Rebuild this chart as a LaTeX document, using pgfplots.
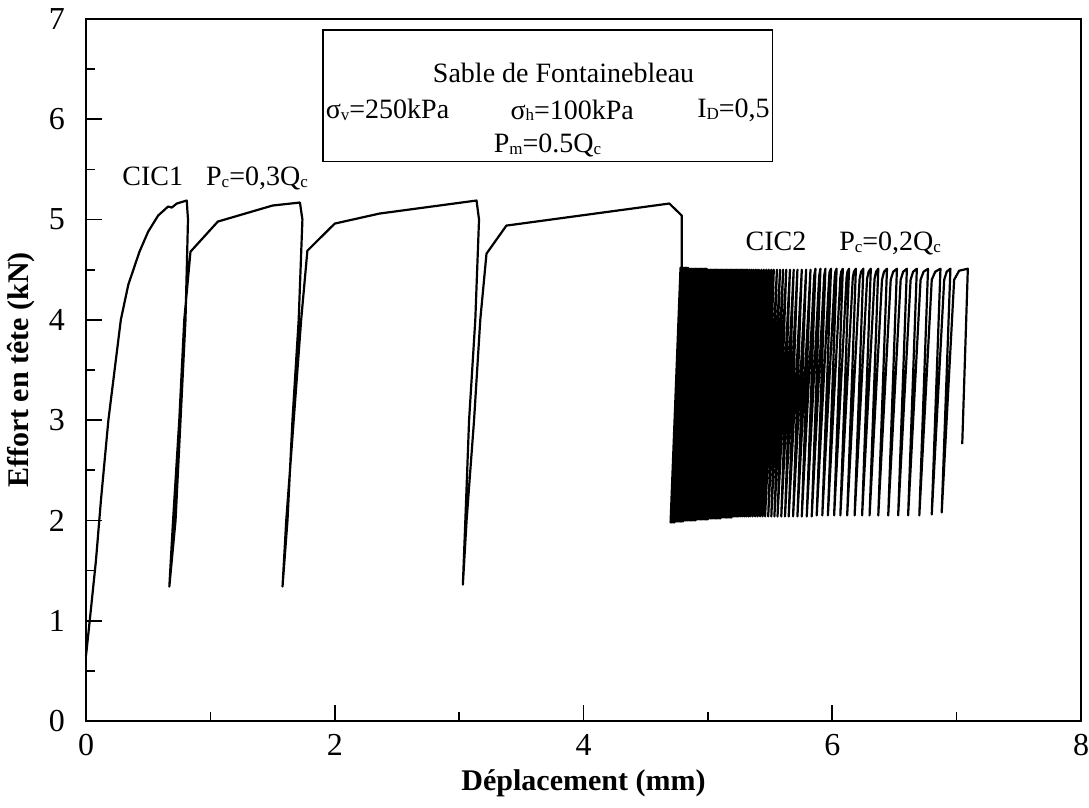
\documentclass[border=0pt]{standalone}
\usepackage{fontspec}
\setmainfont{Liberation Serif}
\usepackage{pgfplots}
\pgfplotsset{compat=1.18}
\newcommand{\sub}[1]{\raisebox{-0.15ex}{\fontsize{8.5}{9}\selectfont #1}}
\begin{document}
\begin{tikzpicture}
\begin{axis}[
  scale only axis, width=497.5pt, height=351pt,
  xmin=0, xmax=8, ymin=0, ymax=7,
  xtick={0,2,4,6,8}, ytick={0,1,2,3,4,5,6,7},
  minor xtick={1,3,5,7}, minor ytick={0.5,1.5,2.5,3.5,4.5,5.5,6.5},
  tick pos=left, tick align=inside,
  major tick length=8pt, minor tick length=4.5pt,
  axis line style={line width=1pt},
  every tick/.style={black, line width=0.8pt},
  tick label style={font=\fontsize{16}{18}\selectfont},
  /pgf/number format/assume math mode=true,
  xticklabel style={yshift=-3pt},
  yticklabel style={xshift=-7pt},
  xlabel={\fontsize{15}{17}\selectfont\bfseries Déplacement (mm)},
  ylabel={\fontsize{15}{17}\selectfont\bfseries Effort en tête (kN)},
  clip=false,
]
\addplot[black, line width=1.1pt, line join=round] coordinates {
(0.00,0.65) (0.03,1.00) (0.08,1.60) (0.12,2.20) (0.18,3.00) (0.24,3.60) (0.28,4.00)
(0.34,4.35) (0.43,4.68) (0.50,4.88) (0.58,5.04) (0.66,5.13) (0.69,5.12) (0.73,5.16) (0.81,5.19)
(0.82,5.00) (0.80,4.00) (0.76,3.00) (0.72,2.00) (0.67,1.34)
(0.70,2.00) (0.75,3.00) (0.79,4.00) (0.84,4.68) (1.06,4.98) (1.50,5.14) (1.72,5.17)
(1.74,5.00) (1.71,4.00) (1.66,3.00) (1.62,2.00) (1.58,1.34)
(1.61,2.00) (1.67,3.00) (1.73,4.00) (1.78,4.69) (2.00,4.96) (2.36,5.06) (3.14,5.19)
(3.16,5.00) (3.13,4.00) (3.08,3.00) (3.05,2.00) (3.03,1.36)
(3.06,2.00) (3.12,3.00) (3.17,4.00) (3.22,4.66) (3.38,4.94) (4.69,5.16) (4.79,5.04) (4.79,4.53)
(4.70,1.98) (4.78,4.52) (4.71,1.98) (4.79,4.52) (4.72,1.98) (4.80,4.52) (4.73,1.98) (4.81,4.52)
(4.74,1.99) (4.82,4.52) (4.75,1.99) (4.83,4.52) (4.76,1.99) (4.84,4.52) (4.77,1.99) (4.85,4.51)
(4.78,1.99) (4.86,4.51) (4.79,1.99) (4.87,4.51) (4.80,1.99) (4.88,4.51) (4.81,2.00) (4.89,4.51)
(4.82,2.00) (4.90,4.51) (4.83,2.00) (4.91,4.51) (4.84,2.00) (4.92,4.51) (4.85,2.00) (4.93,4.51)
(4.86,2.00) (4.94,4.51) (4.87,2.00) (4.95,4.51) (4.88,2.00) (4.96,4.51) (4.89,2.00) (4.97,4.51)
(4.90,2.00) (4.98,4.51) (4.91,2.01) (4.99,4.51) (4.92,2.01) (5.00,4.50) (4.93,2.01) (5.01,4.50)
(4.94,2.01) (5.02,4.50) (4.95,2.01) (5.03,4.50) (4.96,2.01) (5.04,4.50) (4.97,2.01) (5.05,4.50)
(4.98,2.01) (5.06,4.50) (4.99,2.01) (5.07,4.50) (5.00,2.01) (5.08,4.50) (5.01,2.02) (5.09,4.50)
(5.02,2.02) (5.10,4.50) (5.03,2.02) (5.11,4.50) (5.04,2.02) (5.12,4.50) (5.05,2.02) (5.13,4.50)
(5.06,2.02) (5.14,4.50) (5.07,2.02) (5.15,4.50) (5.08,2.02) (5.16,4.50) (5.09,2.02) (5.17,4.50)
(5.10,2.02) (5.18,4.50) (5.11,2.03) (5.19,4.50) (5.12,2.03) (5.20,4.50) (5.13,2.03) (5.21,4.50)
(5.14,2.03) (5.22,4.50) (5.15,2.03) (5.23,4.50) (5.16,2.03) (5.24,4.50) (5.17,2.03) (5.25,4.50)
(5.18,2.03) (5.26,4.50) (5.19,2.03) (5.27,4.50) (5.20,2.04) (5.28,4.50) (5.21,2.04) (5.29,4.50)
(5.22,2.04) (5.30,4.50) (5.23,2.04) (5.31,4.50) (5.24,2.04) (5.32,4.50) (5.25,2.04) (5.335,4.50)
(5.265,2.04) (5.35,4.50) (5.28,2.04) (5.365,4.50)
(5.295,2.04) (5.38,4.50) (5.31,2.04) (5.395,4.50) (5.325,2.04) (5.41,4.50) (5.34,2.04) (5.43,4.50)
(5.36,2.04) (5.45,4.50) (5.38,2.04) (5.47,4.50) (5.40,2.04) (5.49,4.50) (5.42,2.04) (5.51,4.50)
(5.44,2.04) (5.53,4.50) (5.46,2.04) (5.555,4.50) (5.485,2.04) (5.58,4.50) (5.51,2.04) (5.605,4.50)
(5.535,2.04) (5.63,4.50) (5.56,2.04) (5.66,4.50) (5.59,2.04) (5.69,4.50) (5.62,2.04) (5.72,4.50)
(5.65,2.04) (5.755,4.50) (5.685,2.04) (5.79,4.50) (5.72,2.04) (5.825,4.50)
(5.755,2.04) (5.855,4.44) (5.865,4.51)
(5.795,2.04) (5.895,4.44) (5.905,4.51)
(5.835,2.04) (5.935,4.44) (5.945,4.51)
(5.875,2.05) (5.975,4.43) (5.979,4.48) (5.99,4.51)
(5.92,2.05) (6.02,4.43) (6.025,4.48) (6.035,4.51)
(5.965,2.05) (6.065,4.42) (6.072,4.48) (6.085,4.51)
(6.015,2.05) (6.115,4.42) (6.122,4.48) (6.135,4.51)
(6.065,2.05) (6.165,4.42) (6.174,4.48) (6.19,4.51)
(6.12,2.05) (6.22,4.41) (6.232,4.48) (6.25,4.51)
(6.18,2.05) (6.28,4.41) (6.292,4.48) (6.31,4.51)
(6.24,2.05) (6.34,4.41) (6.352,4.48) (6.37,4.51)
(6.30,2.05) (6.40,4.40) (6.416,4.48) (6.44,4.51)
(6.37,2.05) (6.47,4.40) (6.49,4.48) (6.52,4.51)
(6.45,2.05) (6.55,4.40) (6.57,4.48) (6.60,4.51)
(6.53,2.05) (6.63,4.40) (6.65,4.48) (6.68,4.51)
(6.61,2.05) (6.71,4.40) (6.734,4.48) (6.77,4.51)
(6.70,2.05) (6.80,4.40) (6.828,4.48) (6.87,4.51)
(6.80,2.06) (6.90,4.40) (6.92,4.48) (6.95,4.51)
(6.88,2.08) (6.98,4.40) (7.02,4.49) (7.09,4.51) (7.045,2.76)
};
\draw[line width=0.8pt] (axis cs:1.905,6.89) rectangle (axis cs:5.52,5.58);
\begin{scope}[every node/.style={font=\fontsize{14}{16}\selectfont, inner sep=0pt}]
\node at (axis cs:3.84,6.46) {Sable de Fontainebleau};
\node[anchor=west] at (axis cs:1.925,6.09) {σ\sub{v}=250kPa};
\node[anchor=west] at (axis cs:3.41,6.09) {σ\sub{h}=100kPa};
\node[anchor=east] at (axis cs:5.50,6.09) {I\sub{D}=0,5};
\node at (axis cs:3.71,5.74) {P\sub{m}=0.5Q\sub{c}};
\node[anchor=west] at (axis cs:0.29,5.41) {CIC1\hspace{11.5pt}P\sub{c}=0,3Q\sub{c}};
\node[anchor=west] at (axis cs:5.30,4.76) {CIC2\hspace{16.5pt}P\sub{c}=0,2Q\sub{c}};
\end{scope}
\end{axis}
\pgfresetboundingbox
\path[use as bounding box] ([shift={(-43pt,-43pt)}]current axis.south west) rectangle ([shift={(4pt,9.5pt)}]current axis.north east);
\end{tikzpicture}
\end{document}
